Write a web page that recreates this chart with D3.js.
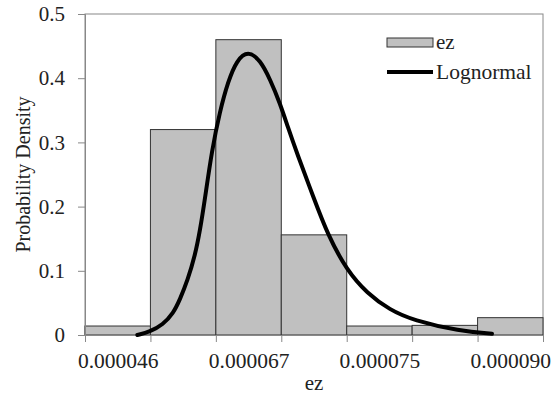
<!DOCTYPE html>
<html>
<head>
<meta charset="utf-8">
<script src="https://cdn.jsdelivr.net/npm/d3@7"></script>
<style>
  body { margin: 0; background: #fff; }
  svg text { font-family: "Liberation Serif", "Times New Roman", serif; fill: #222; }
</style>
</head>
<body>
<svg id="chart"></svg>
<script>
// histogram bins (position along the axis) and their density
var bins = [0, 1, 2, 3, 4, 5, 6];
var density = [0.014, 0.32, 0.46, 0.156, 0.014, 0.015, 0.027];
// labels under every other bin
var tickLabels = ["0.000046", "", "0.000067", "", "0.000075", "", "0.000090"];
var yTicks = [0, 0.1, 0.2, 0.3, 0.4, 0.5];

// lognormal fit (x in bin units)
var curveX = [0.80, 0.99, 1.19, 1.35, 1.45, 1.57, 1.68, 1.76, 1.83, 1.94, 2.06, 2.19, 2.32, 2.49, 2.68, 2.83, 2.98, 3.10, 3.24, 3.49, 3.71, 4.00, 4.31, 4.66, 5.01, 5.73, 6.22];
var curveY = [0.0, 0.005, 0.016, 0.034, 0.055, 0.086, 0.123, 0.164, 0.210, 0.288, 0.348, 0.396, 0.428, 0.443, 0.428, 0.398, 0.361, 0.324, 0.283, 0.215, 0.156, 0.101, 0.065, 0.039, 0.023, 0.006, 0.002];

var W = 555, H = 398;
var plotL = 85, plotR = 543, plotT = 14, plotB = 335;

var svg = d3.select("#chart").attr("width", W).attr("height", H);

var x = d3.scaleLinear().domain([0, bins.length]).range([plotL, plotR]);
var y = d3.scaleLinear().domain([0, 0.5]).range([plotB, plotT]);

// plot frame
svg.append("rect")
    .attr("x", plotL).attr("y", plotT)
    .attr("width", plotR - plotL).attr("height", plotB - plotT)
    .attr("fill", "none").attr("stroke", "#888").attr("stroke-width", 1);

// bars
svg.selectAll("rect.bar")
    .data(bins)
    .enter().append("rect")
    .attr("class", "bar")
    .attr("x", (d) => x(d))
    .attr("y", (d, i) => y(density[i]))
    .attr("width", (d) => x(d + 1) - x(d))
    .attr("height", (d, i) => plotB - y(density[i]))
    .attr("fill", "#c0c0c0")
    .attr("stroke", "#333")
    .attr("stroke-width", 1);

// y axis
var yAxis = svg.append("g")
    .attr("transform", "translate(" + plotL + ",0)")
    .call(d3.axisLeft(y).tickValues(yTicks).tickSize(7).tickPadding(13)
        .tickFormat((d) => d === 0 ? "0" : d3.format(".1f")(d)));
yAxis.select(".domain").attr("stroke", "#888");
yAxis.selectAll(".tick line").attr("stroke", "#888");
yAxis.selectAll("text").attr("font-size", 21).attr("fill", "#222");

// x axis: tick marks on bin edges
var xAxis = svg.append("g")
    .attr("transform", "translate(0," + plotB + ")")
    .call(d3.axisBottom(x).tickValues(d3.range(bins.length + 1)).tickSize(7).tickFormat(""));
xAxis.select(".domain").attr("stroke", "#888");
xAxis.selectAll(".tick line").attr("stroke", "#888");

// x labels at bin centres
var xLab = svg.append("g")
    .attr("transform", "translate(0," + plotB + ")")
    .call(d3.axisBottom(x).tickValues(bins.map((d) => d + 0.5)).tickSize(0).tickPadding(18)
        .tickFormat((d) => tickLabels[Math.floor(d)]));
xLab.select(".domain").remove();
xLab.selectAll("text").attr("font-size", 21.5).attr("fill", "#222");

// lognormal curve
var line = d3.line()
    .x((d) => x(d[0]))
    .y((d) => y(d[1]))
    .curve(d3.curveBasis);

svg.append("path")
    .attr("d", line(curveX.map((v, i) => [v, curveY[i]])))
    .attr("fill", "none")
    .attr("stroke", "#000")
    .attr("stroke-width", 4)
    .attr("stroke-linecap", "round")
    .attr("stroke-linejoin", "round");

// axis titles
svg.append("text")
    .attr("x", (plotL + plotR) / 2).attr("y", 390)
    .attr("text-anchor", "middle").attr("font-size", 21)
    .text("ez");

svg.append("text")
    .attr("transform", "translate(30," + ((plotT + plotB) / 2) + ") rotate(-90)")
    .attr("text-anchor", "middle").attr("font-size", 20)
    .text("Probability Density");

// legend
var lg = svg.append("g").attr("transform", "translate(387,0)");
lg.append("rect")
    .attr("x", 0).attr("y", 38).attr("width", 46).attr("height", 9)
    .attr("fill", "#c0c0c0").attr("stroke", "#333");
lg.append("text").attr("x", 49).attr("y", 49).attr("font-size", 21).text("ez");
lg.append("line")
    .attr("x1", 0).attr("x2", 46).attr("y1", 72).attr("y2", 72)
    .attr("stroke", "#000").attr("stroke-width", 4);
lg.append("text").attr("x", 49).attr("y", 79).attr("font-size", 21.5).text("Lognormal");
</script>
</body>
</html>
